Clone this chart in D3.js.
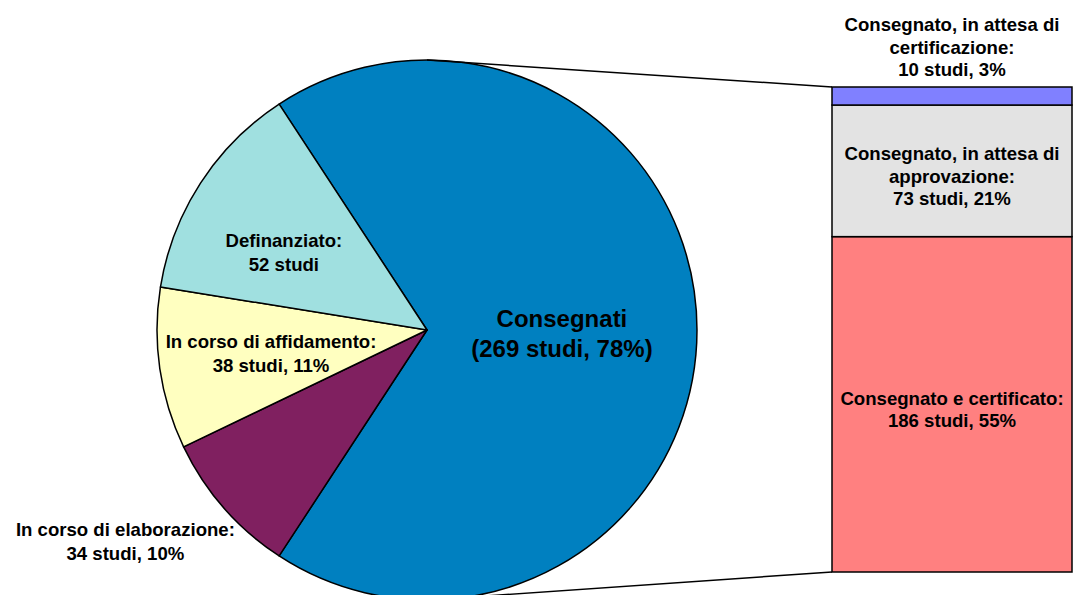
<!DOCTYPE html>
<html>
<head>
<meta charset="utf-8">
<script src="https://cdn.jsdelivr.net/npm/d3@7"></script>
<style>
  body { margin: 0; background: #fff; }
  svg text { font-family: "Liberation Sans", Arial, sans-serif; font-weight: bold; fill: #000; }
</style>
</head>
<body>
<svg width="1073" height="595"></svg>
<script>
// pie slices (clockwise, starting with the split slice)
var pieNames = ["Consegnati", "In corso di elaborazione", "In corso di affidamento", "Definanziato"];
var pieValues = [269, 34, 38, 52];
var pieLabels = [
  ["Consegnati", "(269 studi, 78%)"],
  ["In corso di elaborazione:", "34 studi, 10%"],
  ["In corso di affidamento:", "38 studi, 11%"],
  ["Definanziato:", "52 studi"]
];
var pieColors = ["#0080C0", "#802060", "#FFFFC0", "#A0E0E0"];

// bar breakdown of "Consegnati" (bottom to top)
var barNames = ["Consegnato e certificato", "Consegnato, in attesa di approvazione", "Consegnato, in attesa di certificazione"];
var barValues = [186, 73, 10];
var barLabels = [
  ["Consegnato e certificato:", "186 studi, 55%"],
  ["Consegnato, in attesa di", "approvazione:", "73 studi, 21%"],
  ["Consegnato, in attesa di", "certificazione:", "10 studi, 3%"]
];
var barColors = ["#FF8080", "#E3E3E3", "#8080FF"];

var svg = d3.select("svg");

var cx = 427, cy = 330, r = 270;
var toRad = Math.PI / 180;
var blueSpan = pieValues[0] / d3.sum(pieValues) * 360;

var pie = d3.pie()
  .sort(null)
  .startAngle((90 - blueSpan / 2) * toRad)
  .endAngle((450 - blueSpan / 2) * toRad);

var arc = d3.arc().innerRadius(0).outerRadius(r);

var arcs = pie(pieValues);

var g = svg.append("g").attr("transform", "translate(" + cx + "," + cy + ")");

g.selectAll("path.slice")
  .data(arcs)
  .enter()
  .append("path")
    .attr("class", "slice")
    .attr("d", arc)
    .attr("fill", function(d, i){ return pieColors[i] })
    .attr("stroke", "#000")
    .attr("stroke-width", 1.5)
    .attr("stroke-linejoin", "round");

// bar
var barX = 832, barW = 240;
var y = d3.scaleLinear()
  .domain([0, d3.sum(barValues)])
  .range([572, 87]);

var stack = [];
var acc = 0;
barValues.forEach(function(v, i){
  stack.push({ i: i, y0: acc, y1: acc + v });
  acc += v;
});

// connector lines
svg.append("line")
  .attr("x1", cx).attr("y1", cy - r)
  .attr("x2", barX).attr("y2", y(acc))
  .attr("stroke", "#000").attr("stroke-width", 1.5);
svg.append("line")
  .attr("x1", cx).attr("y1", cy + r)
  .attr("x2", barX).attr("y2", y(0))
  .attr("stroke", "#000").attr("stroke-width", 1.5);

svg.selectAll("rect.seg")
  .data(stack)
  .enter()
  .append("rect")
    .attr("class", "seg")
    .attr("x", barX)
    .attr("y", function(d){ return y(d.y1) })
    .attr("width", barW)
    .attr("height", function(d){ return y(d.y0) - y(d.y1) })
    .attr("fill", function(d){ return barColors[d.i] })
    .attr("stroke", "#000")
    .attr("stroke-width", 1.5);

// multi-line text helper: block centred on (x, yc)
function textBlock(x, yc, lines, size, lh) {
  var t = svg.append("text")
    .attr("x", x)
    .attr("text-anchor", "middle")
    .style("font-size", size + "px");
  var y0 = yc - (lines.length - 1) * lh / 2 + size * 0.36;
  lines.forEach(function(s, k){
    t.append("tspan").attr("x", x).attr("y", y0 + k * lh).text(s);
  });
}

// pie label placement (Excel best fit): angle shift from mid-slice (deg), radius factor
var labelShift = [1.45, 6.2, -0.2, -4.5];
var labelRadius = [0.5, 1.364, 0.584, 0.603];
arcs.forEach(function(d, i){
  var a = (d.startAngle + d.endAngle) / 2 + labelShift[i] * toRad;
  var rr = r * labelRadius[i];
  var big = i === 0;
  textBlock(cx + rr * Math.sin(a), cy - rr * Math.cos(a), pieLabels[i], big ? 24 : 18.6, big ? 30 : 23.4);
});

// bar labels
stack.forEach(function(d){
  var x = barX + barW / 2;
  if (d.i === 2) {
    // thin top segment: label placed above the bar
    textBlock(x, y(d.y1) - 40, barLabels[d.i], 18.6, 22.7);
  } else {
    textBlock(x, (y(d.y0) + y(d.y1)) / 2 + 5, barLabels[d.i], 18.6, 22.7);
  }
});
</script>
</body>
</html>
